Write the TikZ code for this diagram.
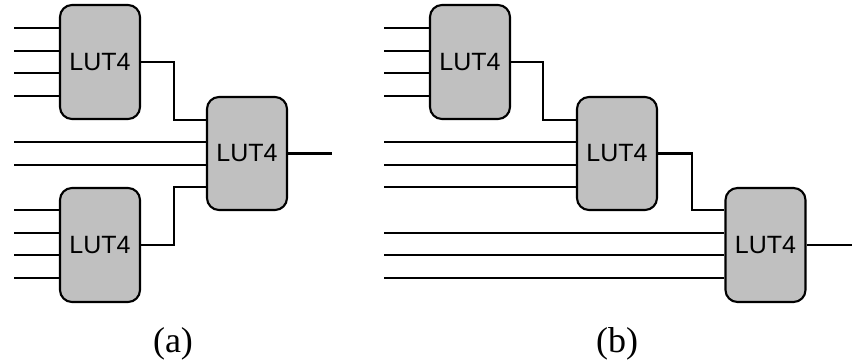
\documentclass[tikz,border=0pt]{standalone}
\usepackage{fontspec}
\setmainfont{Liberation Serif}
\newfontfamily\lutfont{Liberation Sans}
\begin{document}
\begin{tikzpicture}[x=1pt,y=-1pt,
  lut/.style={draw=black, line width=2.1pt, fill=lutgray, rounded corners=12pt,
    minimum width=80pt, minimum height=114pt, inner sep=0pt,
    font=\lutfont\fontsize{25}{25}\selectfont},
  wire/.style={line width=2.9pt, line cap=butt},
  captext/.style={font=\fontsize{36}{36}\selectfont, inner sep=0pt}]
\definecolor{lutgray}{RGB}{192,192,192}
\useasboundingbox (0,0) rectangle (852,361);
% ---------- (a) ----------
\node[lut] (a1) at (100,62) {LUT4};
\node[lut, minimum height=113pt] (a2) at (247,153.5) {LUT4};
\node[lut] (a3) at (100,245) {LUT4};
\foreach \y [count=\i] in {28,51,73,96} {
  \coordinate (ai\i) at (14,\y);
  \draw[wire] (ai\i) -- (ai\i -| a1.west);
}
\foreach \y [count=\i] in {210,233,255,278} {
  \coordinate (aj\i) at (14,\y);
  \draw[wire] (aj\i) -- (aj\i -| a3.west);
}
\coordinate (am1) at (14,142);
\coordinate (am2) at (14,165);
\draw[wire] (am1) -- (am1 -| a2.west);
\draw[wire] (am2) -- (am2 -| a2.west);
\coordinate (ak1) at (174,120);
\coordinate (ak2) at (174,187);
\draw[wire] (a1.east) -| (ak1) -- (ak1 -| a2.west);
\draw[wire] (a3.east) -| (ak2) -- (ak2 -| a2.west);
\coordinate (aout) at (332,153.5);
\draw[wire] (a2.east) -- (aout);
\node[captext] (la) at (173,344) {(a)};
% ---------- (b) ----------
\node[lut] (b1) at (470,62) {LUT4};
\node[lut, minimum height=113pt] (b2) at (617,153.5) {LUT4};
\node[lut] (b3) at (765.5,245) {LUT4};
\foreach \y [count=\i] in {28,51,73,96} {
  \coordinate (bi\i) at (384,\y);
  \draw[wire] (bi\i) -- (bi\i -| b1.west);
}
\foreach \y [count=\i] in {142,165,187} {
  \coordinate (bm\i) at (384,\y);
  \draw[wire] (bm\i) -- (bm\i -| b2.west);
}
\foreach \y [count=\i] in {233,255,278} {
  \coordinate (bj\i) at (384,\y);
  \draw[wire] (bj\i) -- (bj\i -| b3.west);
}
\coordinate (bk1) at (543,120);
\coordinate (bk2) at (692,210);
\draw[wire] (b1.east) -| (bk1) -- (bk1 -| b2.west);
\draw[wire] (b2.east) -| (bk2) -- (bk2 -| b3.west);
\coordinate (bout) at (852,245);
\draw[wire] (b3.east) -- (bout);
\node[captext] (lb) at (617,344) {(b)};
\end{tikzpicture}
\end{document}
